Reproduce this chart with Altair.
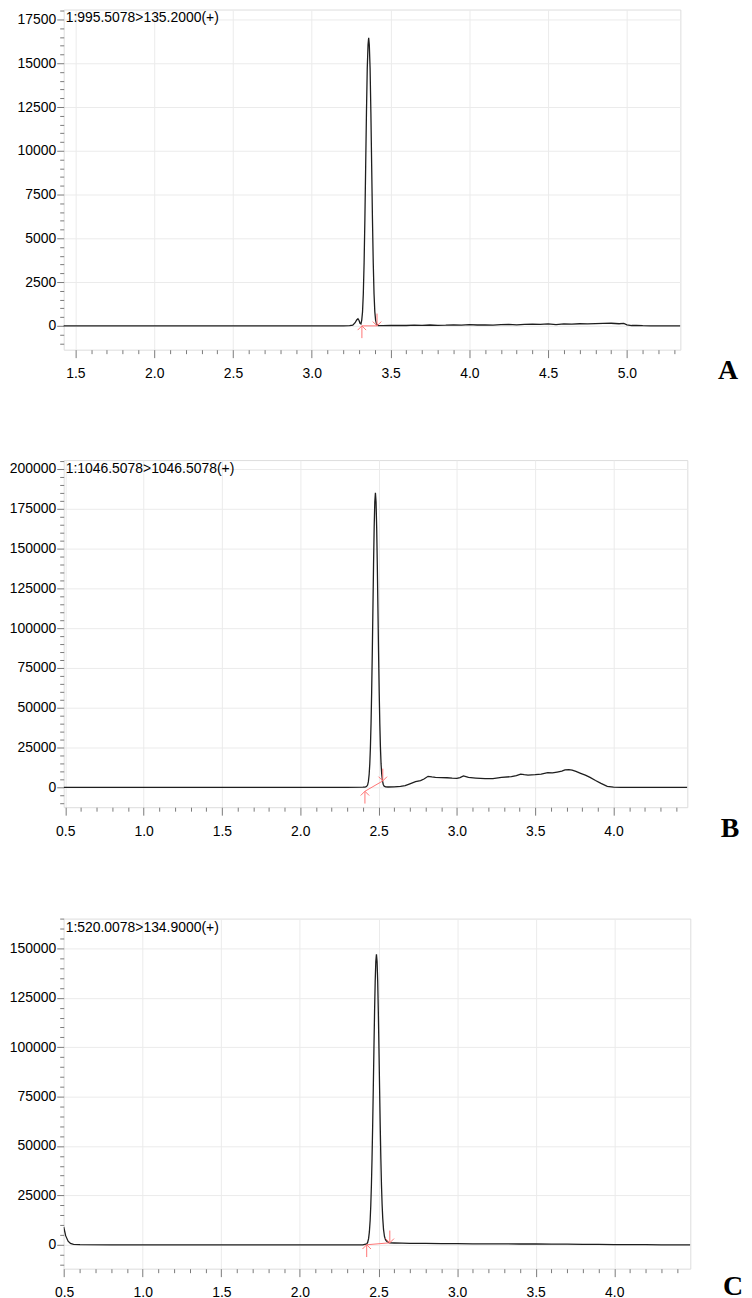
import altair as alt
import pandas as pd

FONT = "Liberation Sans"
RED = "#ff7575"
UP = "M0,0L0,2.6M-0.9,0.9L0,0L0.9,0.9"
DOWN = "M0,0L0,-2.6M-0.9,-0.9L0,0L0.9,-0.9"

# ---------------- Panel A ----------------
a_title = "1:995.5078>135.2000(+)"
a_time = [1.358, 1.6, 1.9, 2.2, 2.5, 2.8, 3.0, 3.1, 3.2, 3.24,
          3.26, 3.275, 3.285, 3.293, 3.300, 3.306, 3.312, 3.317, 3.322, 3.327,
          3.332, 3.337, 3.342, 3.347, 3.352, 3.357, 3.361, 3.365, 3.370, 3.375,
          3.380, 3.385, 3.390, 3.395, 3.400, 3.405, 3.411, 3.42, 3.45, 3.5,
          3.55, 3.6, 3.65, 3.7, 3.75, 3.8, 3.85, 3.9, 3.95, 4.0,
          4.05, 4.1, 4.15, 4.2, 4.25, 4.3, 4.35, 4.4, 4.45, 4.5,
          4.55, 4.6, 4.65, 4.7, 4.75, 4.8, 4.85, 4.9, 4.95, 4.98,
          5.0, 5.03, 5.06, 5.1, 5.15, 5.2, 5.25, 5.339]
a_int = [0, 0, 0, 0, 0, 0, 0, 0, 0, 10,
         40, 180, 340, 410, 310, 150, 110, 330, 800, 1830,
         3600, 6100, 9150, 12200, 14700, 16050, 16450, 16050, 14700, 12200,
         9150, 6100, 3600, 1830, 800, 330, 100, 20, 10, 20,
         30, 20, 40, 30, 50, 30, 40, 60, 40, 70,
         50, 60, 40, 70, 80, 60, 90, 100, 80, 110,
         70, 110, 100, 120, 110, 130, 140, 150, 120, 140,
         60, 20, 30, 10, 0, 0, 0, 0]
a_base_t = [3.318, 3.414]
a_base_i = [0, 0]

# ---------------- Panel B ----------------
b_title = "1:1046.5078>1046.5078(+)"
b_time = [0.490, 1.0, 1.5, 2.0, 2.3, 2.40, 2.412, 2.418, 2.424, 2.430,
          2.435, 2.440, 2.444, 2.448, 2.452, 2.456, 2.460, 2.464, 2.468, 2.472,
          2.476, 2.480, 2.484, 2.488, 2.492, 2.496, 2.500, 2.504, 2.508, 2.512,
          2.516, 2.520, 2.525, 2.530, 2.536, 2.545, 2.56, 2.6, 2.64, 2.67,
          2.70, 2.736, 2.768, 2.79, 2.816, 2.84, 2.863, 2.9, 2.937, 2.97,
          3.0, 3.02, 3.042, 3.074, 3.12, 3.18, 3.23, 3.285, 3.348, 3.38,
          3.407, 3.43, 3.454, 3.5, 3.538, 3.58, 3.61, 3.64, 3.67, 3.69,
          3.715, 3.736, 3.76, 3.79, 3.82, 3.85, 3.885, 3.92, 3.96, 4.0,
          4.05, 4.2, 4.471]
b_int = [0, 0, 0, 0, 0, 50, 100, 250, 600, 1400,
         3550, 8100, 14700, 25000, 40000, 60100, 84700, 112200, 139700, 163300,
         179300, 185000, 179300, 163300, 139700, 112200, 84700, 60100, 40000, 25000,
         14700, 8500, 4200, 1800, 700, 300, 200, 300, 600, 1000,
         2200, 3500, 4200, 5200, 6900, 6500, 6200, 6100, 6000, 5700,
         5600, 6100, 7100, 6200, 5800, 5400, 5500, 6200, 6700, 7300,
         8300, 7900, 7700, 7900, 8300, 9200, 9000, 9600, 10200, 11000,
         11100, 10800, 10000, 8800, 7600, 6200, 4300, 2500, 600, 100,
         0, 0, 0]
b_base_t = [2.413, 2.527]
b_base_i = [-2500, 4000]

# ---------------- Panel C ----------------
c_title = "1:520.0078>134.9000(+)"
c_time = [0.497, 0.51, 0.525, 0.54, 0.56, 0.6, 0.8, 1.2, 1.6, 2.0,
          2.3, 2.40, 2.425, 2.431, 2.437, 2.442, 2.447, 2.451, 2.455, 2.459,
          2.463, 2.467, 2.471, 2.475, 2.479, 2.483, 2.487, 2.491, 2.495, 2.499,
          2.503, 2.507, 2.511, 2.515, 2.519, 2.523, 2.527, 2.532, 2.538, 2.545,
          2.555, 2.57, 2.6, 2.65, 2.7, 2.8, 2.9, 3.0, 3.1, 3.2,
          3.3, 3.4, 3.5, 3.6, 3.7, 3.8, 3.9, 4.0, 4.1, 4.2,
          4.3, 4.4, 4.484]
c_int = [9000, 4500, 1800, 700, 250, 100, 0, 0, 0, 0,
         0, 0, 400, 1200, 3100, 6500, 12400, 19900, 30300, 43800,
         60400, 79300, 99000, 117700, 133200, 143400, 147000, 143400, 133200, 117700,
         99000, 79300, 60400, 43800, 30300, 20500, 13500, 7800, 4200, 2400,
         1500, 1000, 900, 800, 700, 700, 600, 600, 500, 500,
         500, 400, 400, 300, 300, 200, 200, 100, 100, 100,
         0, 0, 0]
c_base_t = [2.425, 2.572]
c_base_i = [0, 1000]

# tick positions
a_xticks = [round(0.1 * k, 1) for k in range(15, 54)]
bc_xticks = [round(0.1 * k, 1) for k in range(5, 45)]
a_yticks = list(range(-1000, 18001, 500))
b_yticks = list(range(-10000, 205001, 5000))
c_yticks = list(range(-10000, 165001, 5000))

X_EXT = 36
SPACING = 67


def panel(times, vals, xdom, ydom, xticks, yticks, ymajor, width, height,
          title, letter, letter_dx, letter_dy, bl_t, bl_i):
    tx = "abs(datum.value*2 - round(datum.value*2)) < 0.000001"
    ty = "abs(datum.value %% %d) < 0.5" % ymajor
    xaxis = alt.Axis(
        values=xticks, title=None, grid=True, gridColor="#ebebeb",
        gridOpacity={"condition": {"test": tx, "value": 1}, "value": 0},
        tickSize={"condition": {"test": tx, "value": 8}, "value": 4},
        tickColor="#7a7a7a", domain=False,
        labelExpr=tx + " ? format(datum.value, '.1f') : ''",
        labelFont=FONT, labelFontSize=14, labelColor="#000000",
        labelPadding=9, labelFlush=False, labelOverlap=False,
        minExtent=X_EXT, maxExtent=X_EXT)
    yaxis = alt.Axis(
        values=yticks, title=None, grid=True, gridColor="#ebebeb",
        gridOpacity={"condition": {"test": ty, "value": 1}, "value": 0},
        tickSize={"condition": {"test": ty, "value": 7}, "value": 4},
        tickColor="#7a7a7a", domain=False,
        labelExpr=ty + " ? format(datum.value, 'd') : ''",
        labelFont=FONT, labelFontSize=14, labelColor="#000000",
        labelPadding=1, labelFlush=False, labelOverlap=False)
    xenc = alt.X("t:Q", scale=alt.Scale(domain=xdom, nice=False, zero=False), axis=xaxis)
    yenc = alt.Y("i:Q", scale=alt.Scale(domain=ydom, nice=False, zero=False), axis=yaxis)

    df = pd.DataFrame({"t": times, "i": vals})
    trace = alt.Chart(df).mark_line(color="#1e1e1e", strokeWidth=1.3, clip=True).encode(x=xenc, y=yenc)

    bl = pd.DataFrame({"t": bl_t, "i": bl_i})
    base_line = alt.Chart(bl).mark_line(color=RED, strokeWidth=1).encode(x=xenc, y=yenc)
    start = alt.Chart(bl.iloc[[0]]).mark_point(
        shape=UP, size=90, filled=False, color=RED, strokeWidth=1, opacity=1
    ).encode(x=xenc, y=yenc)
    end = alt.Chart(bl.iloc[[1]]).mark_point(
        shape=DOWN, size=90, filled=False, color=RED, strokeWidth=1, opacity=1
    ).encode(x=xenc, y=yenc)

    ttl = alt.Chart(pd.DataFrame({"s": [title]})).mark_text(
        align="left", baseline="middle", font=FONT, fontSize=14, color="#000000"
    ).encode(text="s:N", x=alt.value(2), y=alt.value(9))
    let = alt.Chart(pd.DataFrame({"s": [letter]})).mark_text(
        align="center", baseline="middle", font="Liberation Serif", fontSize=28,
        fontWeight="bold", color="#000000"
    ).encode(text="s:N", x=alt.value(width + letter_dx), y=alt.value(height + letter_dy))

    return alt.layer(trace, base_line, start, end, ttl, let).properties(width=width, height=height)


pA = panel(a_time, a_int, [1.4255, 5.339], [-1360, 18070], a_xticks, a_yticks, 2500,
           620, 342, a_title, "A", 48, 21, a_base_t, a_base_i)
pB = panel(b_time, b_int, [0.490, 4.471], [-12500, 205600], bc_xticks, b_yticks, 25000,
           627, 349, b_title, "B", 43, 22, b_base_t, b_base_i)
pC = panel(c_time, c_int, [0.497, 4.484], [-12100, 165100], bc_xticks, c_yticks, 25000,
           630, 352, c_title, "C", 43, 18, c_base_t, c_base_i)

chart = alt.vconcat(pA, pB, pC, spacing=SPACING).properties(
    padding={"left": 0, "top": -9, "right": 0, "bottom": 0}
).configure_view(stroke="#a0a0a0", strokeWidth=1).configure(background="white")

chart.save("out.html", embed_options={"renderer": "svg", "actions": False})
